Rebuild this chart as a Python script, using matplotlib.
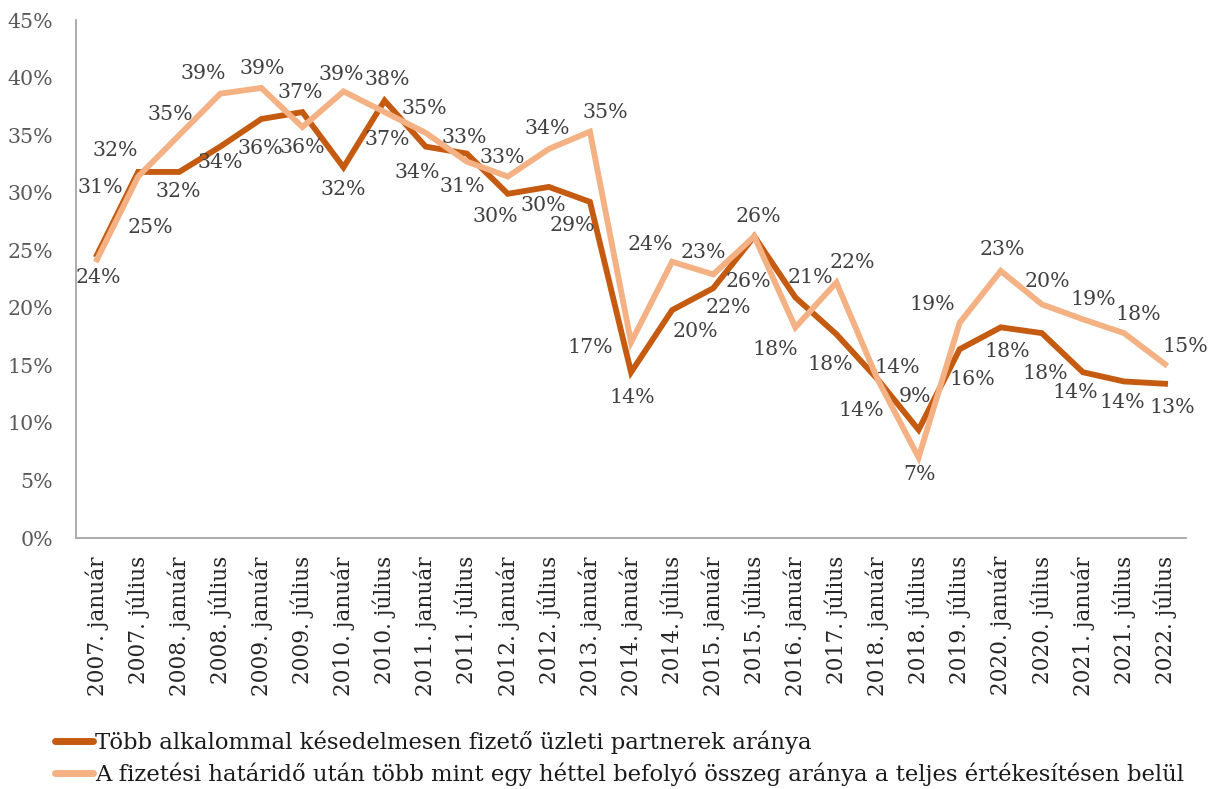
import matplotlib
matplotlib.use("Agg")
import matplotlib.pyplot as plt

categories = ["2007. január", "2007. július", "2008. január", "2008. július",
              "2009. január", "2009. július", "2010. január", "2010. július",
              "2011. január", "2011. július", "2012. január", "2012. július",
              "2013. január", "2014. január", "2014. július", "2015. január",
              "2015. július", "2016. január", "2017. július", "2018. január",
              "2018. július", "2019. július", "2020. január", "2020. július",
              "2021. január", "2021. július", "2022. július"]

late_partners = [24.6, 31.8, 31.8, 34.0, 36.4, 37.0, 32.2, 38.0, 34.0, 33.4,
                 29.9, 30.5, 29.2, 14.4, 19.8, 21.7, 26.2, 20.9, 17.7, 13.8,
                 9.4, 16.4, 18.3, 17.8, 14.4, 13.6, 13.4]
late_amount = [24.2, 31.4, 35.0, 38.6, 39.1, 35.7, 38.8, 37.0, 35.2, 32.7,
               31.4, 33.8, 35.3, 17.0, 24.0, 22.9, 26.2, 18.3, 22.2, 13.8,
               7.0, 18.7, 23.2, 20.3, 19.0, 17.8, 15.1]

series_names = ["Több alkalommal késedelmesen fizető üzleti partnerek aránya",
                "A fizetési határidő után több mint egy héttel befolyó összeg aránya a teljes értékesítésen belül"]

yticks = [0, 5, 10, 15, 20, 25, 30, 35, 40, 45]

# label offsets (pixels) for data labels
dark_off = [(53, 27), (-23, 21), (-1, -20), (0, -16), (-1, -30), (-2, 20), (0, -22),
            (3, 21), (-8, -26), (36, -4), (-13, -23), (-6, -19), (-18, -24), (1, -25),
            (23, -21), (15, -19), (-6, -45), (15, 20), (-6, -30), (-16, -31), (-4, 33),
            (13, -30), (7, -24), (3, -40), (-8, -20), (-2, -21), (7, -24)]
light_off = [(1, -18), (-38, -11), (-9, 21), (-17, 20), (1, 19), (0, -20), (-2, 17),
             (3, -27), (-1, 24), (-2, 24), (-46, -10), (-2, 20), (15, 19), (-41, -5),
             (-22, 17), (-10, 22), (4, 20), (-20, -22), (16, 20), (20, 12), (1, -17),
             (-27, 18), (2, 21), (6, 23), (10, 20), (14, 19), (20, 18)]

DARK = "#C55A11"
LIGHT = "#F4B183"
FONT = "DejaVu Serif"
FS = 14.8

plt.rcParams["font.family"] = FONT

fig = plt.figure(figsize=(12.15, 7.89), dpi=100)
ax = fig.add_axes([76.5 / 1215, 1 - 538 / 789, (1185.6 - 76.5) / 1215, (538 - 20) / 789])

x = list(range(len(categories)))
l1, = ax.plot(x, late_partners, color=DARK, lw=4.2, solid_joinstyle="miter", zorder=2)
l2, = ax.plot(x, late_amount, color=LIGHT, lw=4.2, solid_joinstyle="miter", zorder=3)

for xi, v, off in zip(x, late_partners, dark_off):
    ax.annotate(f"{round(v):.0f}%", (xi, v), xytext=off, textcoords="offset pixels",
                ha="center", va="center", fontsize=FS, color="#404040", zorder=5)
for xi, v, off in zip(x, late_amount, light_off):
    ax.annotate(f"{round(v):.0f}%", (xi, v), xytext=off, textcoords="offset pixels",
                ha="center", va="center", fontsize=FS, color="#404040", zorder=5)

ax.set_xlim(-0.5, len(categories) - 0.5)
ax.set_ylim(0, 45)
ax.set_yticks(yticks)
ax.set_yticklabels([f"{t}%" for t in yticks], fontsize=FS, color="#595959")
ax.set_xticks(x)
ax.set_xticklabels(categories, rotation=90, fontsize=15.6, color="#262626")
ax.tick_params(axis="y", length=0, pad=17)
ax.tick_params(axis="x", length=0, pad=13)

for s in ["top", "right"]:
    ax.spines[s].set_visible(False)
for s in ["left", "bottom"]:
    ax.spines[s].set_color("#A6A6A6")
    ax.spines[s].set_linewidth(1.3)

leg = fig.legend([l1, l2], series_names, loc="lower left", bbox_to_anchor=(55 / 1215, 3 / 789),
                 frameon=False, fontsize=16.4, handlelength=1.67, handletextpad=0.1,
                 labelspacing=0.38, borderaxespad=0.0, borderpad=0.0, labelcolor="#1a1a1a")
for h in leg.legend_handles:
    h.set_linewidth(5)
    h.set_solid_capstyle("round")

fig.savefig("out.png", dpi=100)
